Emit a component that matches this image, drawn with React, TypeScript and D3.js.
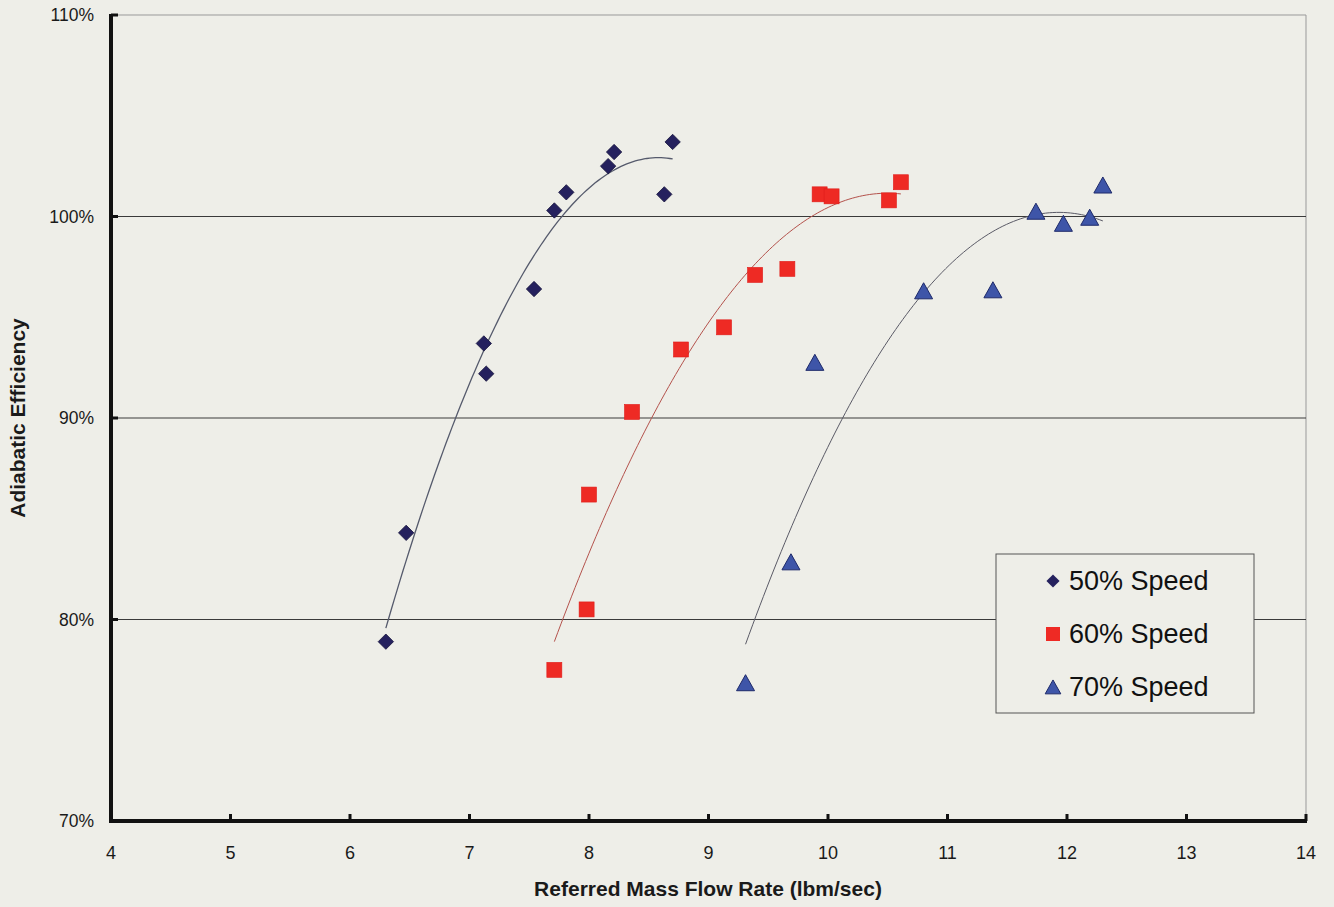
import React from "react";
import * as d3 from "d3";

const xTicks = [4, 5, 6, 7, 8, 9, 10, 11, 12, 13, 14];
const yTicks = [70, 80, 90, 100, 110];

const flow50 = [6.30, 6.47, 7.14, 7.12, 7.54, 7.71, 7.81, 8.16, 8.21, 8.63, 8.70];
const eff50 = [78.9, 84.3, 92.2, 93.7, 96.4, 100.3, 101.2, 102.5, 103.2, 101.1, 103.7];

const flow60 = [7.71, 7.98, 8.00, 8.36, 8.77, 9.13, 9.39, 9.66, 9.93, 10.03, 10.51, 10.61];
const eff60 = [77.5, 80.5, 86.2, 90.3, 93.4, 94.5, 97.1, 97.4, 101.1, 101.0, 100.8, 101.7];

const flow70 = [9.31, 9.69, 9.89, 10.80, 11.38, 11.74, 11.97, 12.19, 12.30];
const eff70 = [76.8, 82.8, 92.7, 96.25, 96.3, 100.2, 99.6, 99.9, 101.5];

const seriesNames = ["50% Speed", "60% Speed", "70% Speed"];

const W = 1334;
const H = 907;
const FONT = "'Liberation Sans', Arial, sans-serif";

function quadFit(xs: number[], ys: number[]) {
  const n = xs.length;
  let s = [0, 0, 0, 0, 0];
  let t = [0, 0, 0];
  for (let i = 0; i < n; i++) {
    const x = xs[i], y = ys[i];
    for (let k = 0; k < 5; k++) s[k] += Math.pow(x, k);
    for (let k = 0; k < 3; k++) t[k] += y * Math.pow(x, k);
  }
  const A = [
    [s[0], s[1], s[2], t[0]],
    [s[1], s[2], s[3], t[1]],
    [s[2], s[3], s[4], t[2]],
  ];
  for (let i = 0; i < 3; i++) {
    let p = i;
    for (let r = i + 1; r < 3; r++) if (Math.abs(A[r][i]) > Math.abs(A[p][i])) p = r;
    [A[i], A[p]] = [A[p], A[i]];
    for (let r = 0; r < 3; r++) {
      if (r === i) continue;
      const f = A[r][i] / A[i][i];
      for (let c = i; c < 4; c++) A[r][c] -= f * A[i][c];
    }
  }
  const c = [A[0][3] / A[0][0], A[1][3] / A[1][1], A[2][3] / A[2][2]];
  return (x: number) => c[0] + c[1] * x + c[2] * x * x;
}

export default function App() {
  const left = 111, right = 1306, top = 15, bottom = 821;
  const x = d3.scaleLinear().domain([4, 14]).range([left, right]);
  const y = d3.scaleLinear().domain([70, 110]).range([bottom, top]);

  const trend = (xs: number[], ys: number[]) => {
    const f = quadFit(xs, ys);
    const lo = d3.min(xs)!, hi = d3.max(xs)!;
    const pts = d3.range(0, 101).map((i) => lo + ((hi - lo) * i) / 100);
    return d3.line<number>().x((v) => x(v)).y((v) => y(f(v)))(pts) || "";
  };

  const diamond = d3.symbol().type(d3.symbolDiamond2).size(150)() || "";
  const legendDiamond = d3.symbol().type(d3.symbolDiamond2).size(110)() || "";
  const tri = (cx: number, cy: number, s: number) =>
    `M${cx},${cy - s * 0.62}L${cx + s * 0.6},${cy + s * 0.45}L${cx - s * 0.6},${cy + s * 0.45}Z`;

  const navy = "#25215e";
  const red = "#ee2a24";
  const blue = "#3e55a8";

  const legendY = [581, 634, 687];

  return (
    <svg width={W} height={H} style={{ position: "absolute", left: 0, top: 0, background: "#eeeee8" }}>
      <rect x={0} y={0} width={W} height={H} fill="#eeeee8" />
      {/* plot frame */}
      <line x1={left} x2={right} y1={top} y2={top} stroke="#999" strokeWidth={1} />
      <line x1={right} x2={right} y1={top} y2={bottom} stroke="#999" strokeWidth={1} />
      {/* gridlines */}
      {yTicks.filter((v) => v > 70 && v < 110).map((v) => (
        <line key={v} x1={left} x2={right} y1={y(v)} y2={y(v)} stroke="#3a3a3a" strokeWidth={1} />
      ))}
      {/* axes */}
      <line x1={left} x2={left} y1={top - 1} y2={bottom + 2} stroke="#111" strokeWidth={4} />
      <line x1={left - 2} x2={right + 1} y1={bottom} y2={bottom} stroke="#111" strokeWidth={4} />
      {xTicks.map((v) => (
        <g key={v}>
          <line x1={x(v)} x2={x(v)} y1={bottom} y2={bottom - 7} stroke="#111" strokeWidth={3} />
          <text x={x(v)} y={bottom + 38} textAnchor="middle" fontFamily={FONT} fontSize={18} fill="#1a1a1a">
            {v}
          </text>
        </g>
      ))}
      {yTicks.map((v) => (
        <g key={v}>
          <line x1={left} x2={left + 7} y1={y(v)} y2={y(v)} stroke="#111" strokeWidth={3} />
          <text x={94} y={y(v) + 6} textAnchor="end" fontFamily={FONT} fontSize={17.5} fill="#1a1a1a">
            {v}%
          </text>
        </g>
      ))}
      {/* axis titles */}
      <text x={708} y={896} textAnchor="middle" fontFamily={FONT} fontWeight="bold" fontSize={21} fill="#1a1a1a">
        Referred Mass Flow Rate (lbm/sec)
      </text>
      <text
        transform={`translate(25,${(top + bottom) / 2}) rotate(-90)`}
        textAnchor="middle"
        fontFamily={FONT}
        fontWeight="bold"
        fontSize={21}
        fill="#1a1a1a"
      >
        Adiabatic Efficiency
      </text>
      {/* trend lines */}
      <path d={trend(flow50, eff50)} fill="none" stroke="#555a6c" strokeWidth={1.3} />
      <path d={trend(flow60, eff60)} fill="none" stroke="#b4524c" strokeWidth={1} />
      <path d={trend(flow70, eff70)} fill="none" stroke="#5a5a66" strokeWidth={1} />
      {/* points */}
      {flow50.map((f, i) => (
        <path key={"a" + i} d={diamond} transform={`translate(${x(f)},${y(eff50[i])})`} fill={navy} stroke="#14123a" strokeWidth={0.8} />
      ))}
      {flow60.map((f, i) => (
        <rect key={"b" + i} x={x(f) - 7.5} y={y(eff60[i]) - 7.5} width={15} height={15} fill={red} stroke="#e01c18" strokeWidth={0.6} />
      ))}
      {flow70.map((f, i) => (
        <path key={"c" + i} d={tri(x(f), y(eff70[i]), 15)} fill={blue} stroke="#1e2a6a" strokeWidth={1} />
      ))}
      {/* legend */}
      <rect x={996} y={554} width={258} height={159} fill="#eeeee8" stroke="#555" strokeWidth={1} />
      {seriesNames.map((name, i) => {
        const cy = legendY[i];
        const mx = 1053;
        return (
          <g key={name}>
            {i === 0 && <path d={legendDiamond} transform={`translate(${mx},${cy})`} fill={navy} />}
            {i === 1 && <rect x={mx - 7} y={cy - 7} width={14} height={14} fill={red} />}
            {i === 2 && <path d={tri(mx, cy + 1, 13)} fill={blue} stroke="#1e2a6a" strokeWidth={1} />}
            <text x={1069} y={cy + 9} fontFamily={FONT} fontSize={27} fill="#111">
              {name}
            </text>
          </g>
        );
      })}
    </svg>
  );
}
